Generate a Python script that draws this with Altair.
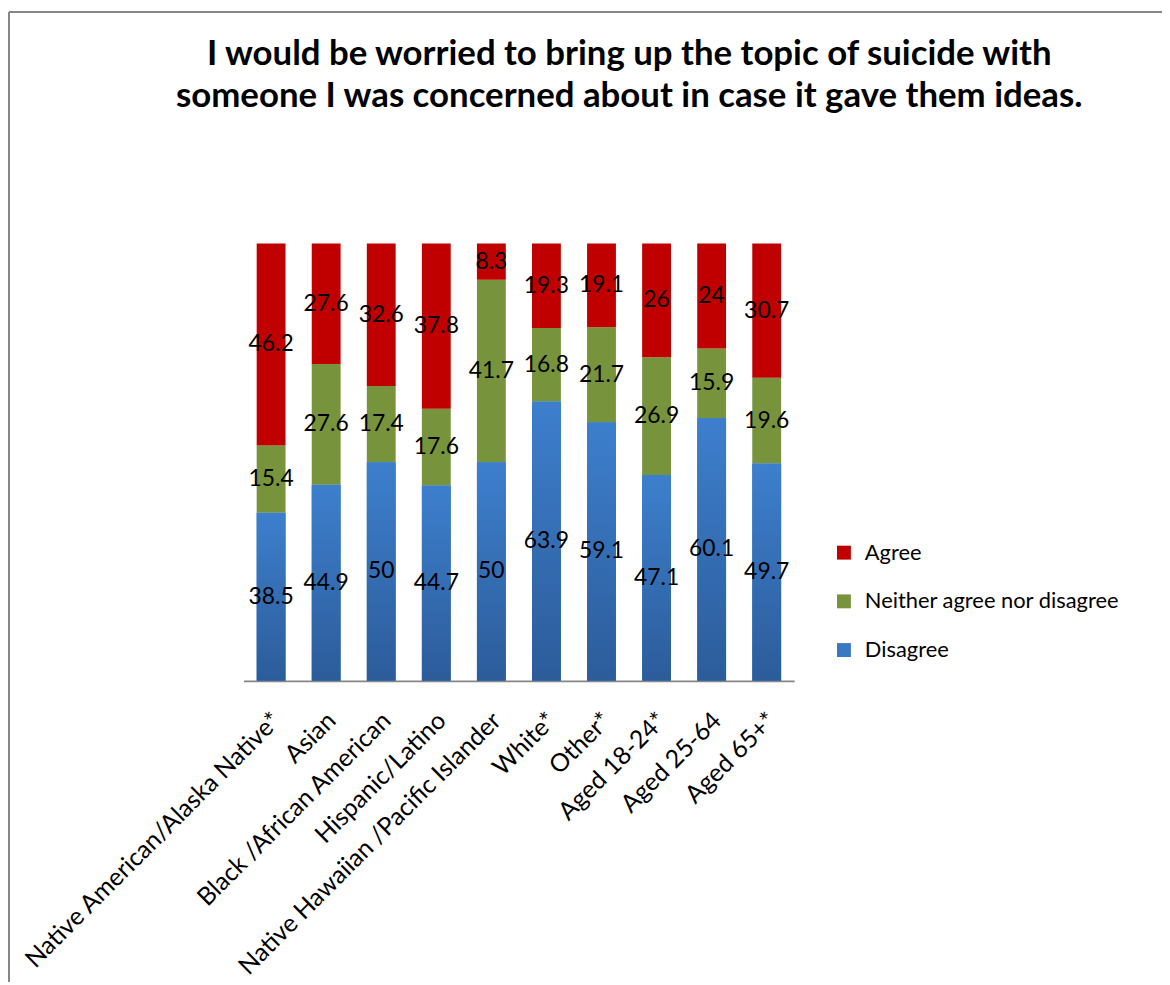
import altair as alt
import pandas as pd

categories = ["Native American/Alaska Native*", "Asian", "Black /African American",
              "Hispanic/Latino", "Native Hawaiian /Pacific Islander", "White*", "Other*",
              "Aged 18-24*", "Aged 25-64", "Aged 65+*"]
disagree = [38.5, 44.9, 50, 44.7, 50, 63.9, 59.1, 47.1, 60.1, 49.7]
neither = [15.4, 27.6, 17.4, 17.6, 41.7, 16.8, 21.7, 26.9, 15.9, 19.6]
agree = [46.2, 27.6, 32.6, 37.8, 8.3, 19.3, 19.1, 26, 24, 30.7]

responses = ["Agree", "Neither agree nor disagree", "Disagree"]
colors = ["#C00000", "#77933C", "#3A78C4"]
stack_order = {"Disagree": 0, "Neither agree nor disagree": 1, "Agree": 2}

rows = []
for i, c in enumerate(categories):
    for resp, vals in (("Disagree", disagree), ("Neither agree nor disagree", neither), ("Agree", agree)):
        rows.append({"category": c, "response": resp, "value": vals[i], "order": stack_order[resp]})
df = pd.DataFrame(rows)

FONT = "Lato"

x_enc = alt.X(
    "category:N", sort=categories,
    scale=alt.Scale(paddingInner=0.476, paddingOuter=0.238),
    axis=alt.Axis(title=None, labelAngle=-45, labelAlign="right", labelBaseline="top",
                  labelFontSize=25, labelFont=FONT, labelColor="black",
                  labelOffset=-3, labelPadding=27, ticks=False, labelLimit=0,
                  domainColor="#868686", domainWidth=2, grid=False),
)

base = alt.Chart(df).transform_stack(
    stack="value", groupby=["category"], as_=["y0", "y1"],
    offset="normalize", sort=[alt.SortField("order", order="ascending")],
)

bars = base.mark_bar().encode(
    x=x_enc,
    y=alt.Y("y0:Q", scale=alt.Scale(domain=[0, 1]), axis=None),
    y2="y1:Q",
    color=alt.Color("response:N", scale=alt.Scale(domain=responses, range=colors),
                    legend=alt.Legend(title=None, orient="none", legendX=593, legendY=300,
                                      symbolType="square", symbolSize=196, symbolStrokeWidth=0,
                                      labelFontSize=22, labelFont=FONT, labelColor="black",
                                      labelLimit=0, rowPadding=27, labelOffset=10)),
)

grad = base.transform_filter(alt.datum.response == "Disagree").mark_bar(
    color=alt.LinearGradient(
        gradient="linear", x1=0, x2=0, y1=0, y2=1,
        stops=[alt.GradientStop(offset=0, color="#3D7FCD"),
               alt.GradientStop(offset=1, color="#2C5C9A")],
    )
).encode(
    x=x_enc,
    y=alt.Y("y0:Q", scale=alt.Scale(domain=[0, 1]), axis=None),
    y2="y1:Q",
)

labels = base.transform_calculate(mid="(datum.y0 + datum.y1) / 2").mark_text(
    font=FONT, fontSize=23, color="black", baseline="middle", align="center"
).encode(
    x=x_enc,
    y=alt.Y("mid:Q", scale=alt.Scale(domain=[0, 1]), axis=None),
    text=alt.Text("value:Q"),
)

frame_df = pd.DataFrame({"k": [0]})
frame_top = alt.Chart(frame_df).mark_rule(color="#868686", strokeWidth=2).encode(
    x=alt.value(-236), x2=alt.value(1200), y=alt.value(-233)
)
frame_left = alt.Chart(frame_df).mark_rule(color="#868686", strokeWidth=2).encode(
    x=alt.value(-236), y=alt.value(-233), y2=alt.value(800)
)

chart = alt.layer(frame_top, frame_left, bars, grad, labels).properties(
    width=554, height=440,
    title=alt.TitleParams(
        text=["I would be worried to bring up the topic of suicide with",
              "someone I was concerned about in case it gave them ideas."],
        font=FONT, fontSize=35, fontWeight="bold", color="black",
        anchor="middle", frame="group", dx=111, dy=124, offset=20, lineHeight=43,
        baseline="top",
    ),
    padding={"left": 237, "top": 234, "right": 370, "bottom": 300},
    autosize=alt.AutoSizeParams(type="none"),
    background="white",
).configure_view(strokeWidth=0)

chart.save("out.html", embed_options={"renderer": "svg", "actions": False})
